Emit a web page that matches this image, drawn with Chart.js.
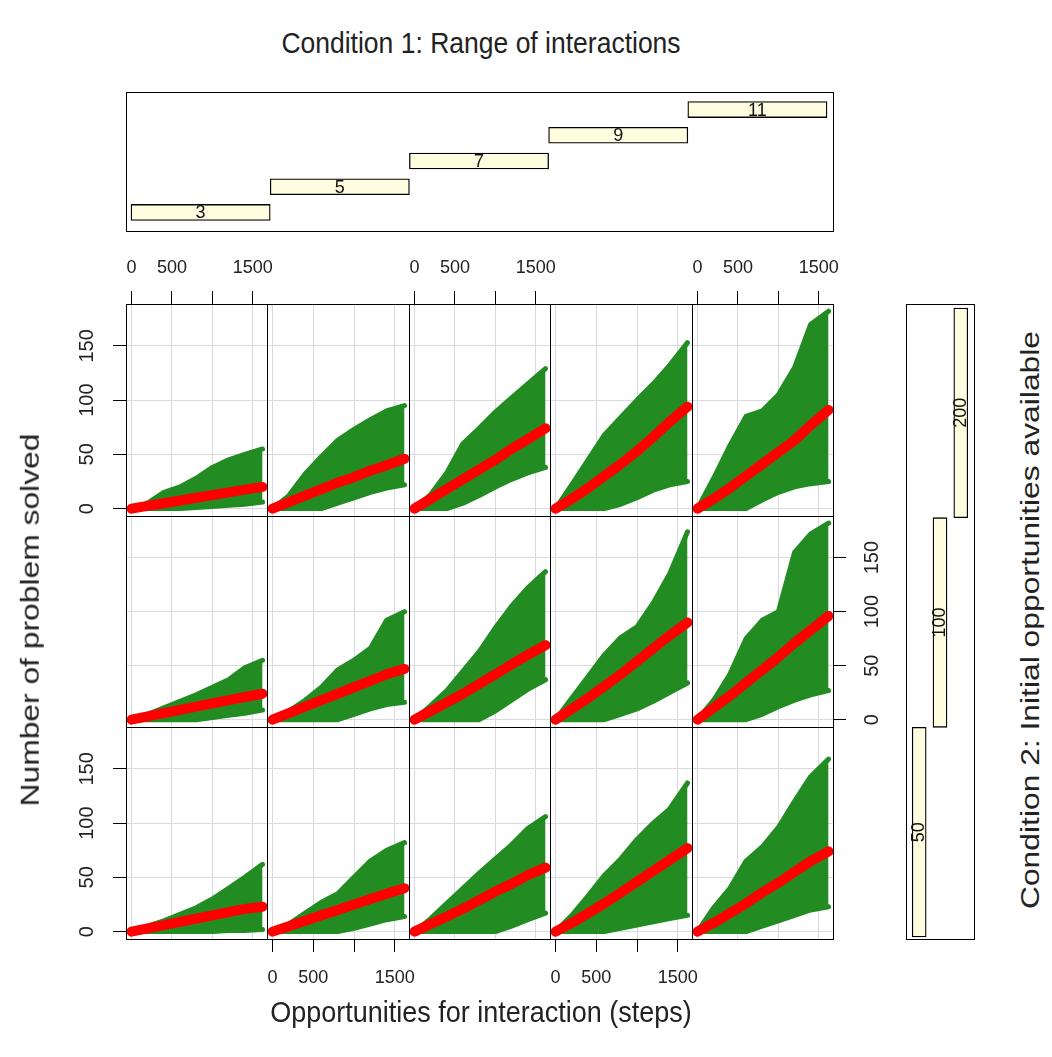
<!DOCTYPE html>
<html>
<head>
<meta charset="utf-8">
<script src="https://cdn.jsdelivr.net/npm/chart.js@4.4.1/dist/chart.umd.min.js"></script>
<style>
body{margin:0;background:#fff;width:1052px;height:1057px;position:relative;overflow:hidden;font-family:"Liberation Sans",Arial,sans-serif;color:#222}
canvas{position:absolute}
.frame{position:absolute;border:1px solid #000;box-sizing:border-box;pointer-events:none}
.lbl{position:absolute;white-space:nowrap;line-height:1}
</style>
</head>
<body>
<script>
// shingle levels
const rangeLevels = ["3", "5", "7", "9", "11"];
const rangeLow = [2, 4, 6, 8, 10];
const rangeHigh = [4, 6, 8, 10, 12];
const oppLevels = ["50", "100", "200"];
const oppLow = [0, 1, 2];
const oppHigh = [1, 2, 3];

const xTicks = [0, 500, 1000, 1500];
const yTicks = [0, 50, 100, 150];

// steps where the envelopes were read
const steps = [0, 200, 400, 600, 800, 1000, 1200, 1400, 1620];

// one list per range of interactions (3,5,7,9,11)
const upper200 = [
  [0, 5, 15, 20, 28, 38, 45, 50, 55],
  [0, 12, 32, 48, 63, 73, 82, 90, 95],
  [0, 13, 33, 60, 74, 89, 102, 115, 129],
  [0, 22, 45, 68, 84, 100, 115, 132, 153],
  [0, 28, 58, 85, 90, 105, 130, 170, 182]
];
const lower200 = [
  [0, 0, 0, 0, 1, 2, 3, 4, 6],
  [0, 0, 0, 0, 5, 10, 15, 19, 22],
  [0, 0, 0, 5, 12, 20, 27, 33, 38],
  [0, 0, 0, 0, 4, 10, 17, 22, 25],
  [0, 0, 0, 0, 8, 15, 20, 23, 25]
];
const mean200 = [
  [0, 2.5, 5, 7.5, 10, 12.5, 15, 17.5, 20],
  [0, 6, 12, 18, 24, 29, 35, 40, 46],
  [0, 9, 18, 27, 36, 45, 55, 64, 74],
  [0, 9, 19, 30, 41, 53, 66, 80, 94],
  [0, 9, 19, 30, 41, 52, 63, 77, 91]
];

const upper100 = [
  [0, 5, 11, 17, 23, 30, 37, 48, 55],
  [0, 8, 18, 30, 46, 55, 66, 92, 100],
  [0, 13, 27, 45, 63, 85, 105, 122, 137],
  [0, 20, 40, 60, 76, 86, 108, 135, 174],
  [0, 18, 42, 75, 92, 100, 155, 172, 182]
];
const lower100 = [
  [0, 0, 0, 0, 0, 2, 4, 6, 9],
  [0, 0, 0, 0, 0, 5, 10, 14, 16],
  [0, 0, 0, 0, 0, 8, 18, 28, 37],
  [0, 0, 0, 0, 5, 10, 17, 25, 34],
  [0, 0, 0, 0, 5, 12, 18, 23, 27]
];
const mean100 = [
  [0, 3, 6, 9, 12, 15, 18, 21, 24],
  [0, 6, 12, 18, 24, 30, 36, 42, 47],
  [0, 8, 16, 24, 33, 42, 51, 60, 69],
  [0, 10, 20, 31, 42, 54, 66, 78, 90],
  [0, 11, 22, 34, 46, 58, 71, 83, 96]
];

const upper50 = [
  [0, 5, 10, 16, 22, 30, 40, 50, 62],
  [0, 7, 17, 27, 35, 50, 65, 75, 82],
  [0, 12, 26, 40, 54, 67, 80, 95, 106],
  [0, 15, 33, 52, 67, 85, 100, 113, 137],
  [0, 22, 40, 65, 78, 96, 120, 143, 159]
];
const lower50 = [
  [0, 0, 0, 0, 0, 0, 1, 1, 2],
  [0, 0, 0, 0, 0, 3, 7, 11, 14],
  [0, 0, 0, 0, 0, 0, 5, 11, 17],
  [0, 0, 0, 0, 3, 6, 9, 12, 15],
  [0, 0, 0, 0, 5, 10, 15, 20, 23]
];
const mean50 = [
  [0, 3, 6, 9, 12, 15, 18, 21, 23],
  [0, 5, 10, 15, 20, 25, 30, 35, 40],
  [0, 7, 14, 21, 29, 37, 44, 52, 59],
  [0, 8, 17, 26, 36, 46, 56, 66, 77],
  [0, 8, 17, 26, 36, 45, 55, 65, 74]
];

// layout
const colL = [126, 267, 409, 550, 692, 833];
const rowT = [304, 516, 727, 939];
const AX = 60;
const PADX = 30;
const GREEN = "#228b22";
const RED = "#ff0000";
const FONT = '"Liberation Sans", Arial, sans-serif';

Chart.defaults.font.family = FONT;
Chart.defaults.animation = false;
Chart.defaults.events = [];
Chart.defaults.plugins.legend.display = false;
Chart.defaults.plugins.tooltip.enabled = false;

function addCanvas(left, top, w, h) {
  const cv = document.createElement("canvas");
  cv.width = w; cv.height = h;
  cv.style.left = left + "px"; cv.style.top = top + "px";
  cv.style.width = w + "px"; cv.style.height = h + "px";
  document.body.appendChild(cv);
  return cv;
}

function frame(left, top, w, h) {
  const d = document.createElement("div");
  d.className = "frame";
  d.style.left = left + "px"; d.style.top = top + "px";
  d.style.width = w + "px"; d.style.height = h + "px";
  document.body.appendChild(d);
}

function text(str, x, y, size, rot, stretch) {
  const d = document.createElement("div");
  d.className = "lbl";
  d.textContent = str;
  d.style.left = x + "px"; d.style.top = y + "px";
  d.style.fontSize = size + "px";
  const s = rot ? "scaleX(" + stretch + ")" : "scaleY(" + stretch + ")";
  d.style.transform = "translate(-50%,-50%) rotate(" + (rot || 0) + "deg) " + s;
  document.body.appendChild(d);
}

function pts(ys) {
  return steps.map((x, i) => ({ x: x, y: ys[i] }));
}

function panel(r, c, up, lo, mn) {
  const xTop = r === 0 && c % 2 === 0;
  const xBot = r === 2 && c % 2 === 1;
  const yLeft = c === 0 && r !== 1;
  const yRight = c === 4 && r === 1;
  const padX = (xTop || xBot) ? PADX : 0;
  const w = colL[c + 1] - colL[c];
  const h = rowT[r + 1] - rowT[r];
  const cv = addCanvas(colL[c] - (yLeft ? AX : 0) - padX, rowT[r] - (xTop ? AX : 0),
    w + (yLeft || yRight ? AX : 0) + 2 * padX, h + (xTop || xBot ? AX : 0));

  new Chart(cv, {
    type: "line",
    data: {
      datasets: [
        { data: pts(mn), borderColor: RED, borderWidth: 10, pointRadius: 0,
          borderCapStyle: "round", borderJoinStyle: "round", fill: false, order: 0 },
        { data: pts(lo), borderColor: GREEN, borderWidth: 5, pointRadius: 0,
          borderCapStyle: "round", borderJoinStyle: "round", fill: false, order: 2 },
        { data: pts(up), borderColor: GREEN, backgroundColor: GREEN, borderWidth: 5,
          pointRadius: 0, borderCapStyle: "round", borderJoinStyle: "round", fill: 1, order: 1 }
      ]
    },
    options: {
      responsive: false,
      layout: { padding: { left: padX, right: padX, top: 0, bottom: 0 } },
      scales: {
        x: {
          type: "linear", min: -68, max: 1675,
          position: xTop ? "top" : "bottom",
          afterBuildTicks: s => { s.ticks = xTicks.map(v => ({ value: v })); },
          afterFit: s => { s.height = (xTop || xBot) ? AX : 0; s.paddingLeft = 0; s.paddingRight = 0; },
          border: { display: false },
          grid: { color: "#d9d9de", drawTicks: xTop || xBot, tickLength: 13, tickColor: "#000" },
          ticks: {
            display: xTop || xBot, autoSkip: false, minRotation: 0, maxRotation: 0,
            padding: xTop ? 12 : 15, color: "#222", font: { size: 18 },
            callback: v => (v === 1000 ? "" : String(v))
          }
        },
        y: {
          type: "linear", min: -6.8, max: 188.6,
          position: yRight ? "right" : "left",
          afterBuildTicks: s => { s.ticks = yTicks.map(v => ({ value: v })); },
          afterFit: s => { s.width = (yLeft || yRight) ? AX : 0; s.paddingTop = 0; s.paddingBottom = 0; },
          border: { display: false },
          grid: { color: "#d9d9de", drawTicks: yLeft || yRight, tickLength: 13, tickColor: "#000" },
          ticks: {
            display: yLeft || yRight, minRotation: 90, maxRotation: 90, crossAlign: "center",
            padding: yLeft ? 9 : 10, color: "#222", font: { size: 20 }
          }
        }
      }
    }
  });
  frame(colL[c], rowT[r], w + 1, h + 1);
}

const rows = [
  [upper200, lower200, mean200],
  [upper100, lower100, mean100],
  [upper50, lower50, mean50]
];
rows.forEach((set, r) => {
  for (let c = 0; c < 5; c++) panel(r, c, set[0][c], set[1][c], set[2][c]);
});

// labels inside shingle bars
const barText = {
  id: "barText",
  afterDatasetsDraw(chart, args, opts) {
    const ctx = chart.ctx;
    const els = chart.getDatasetMeta(0).data;
    const horiz = chart.options.indexAxis === "y";
    ctx.save();
    ctx.fillStyle = "#111";
    ctx.font = opts.size + "px " + FONT;
    ctx.textAlign = "center";
    ctx.textBaseline = "middle";
    els.forEach((el, i) => {
      const cx = horiz ? (el.x + el.base) / 2 : el.x;
      const cy = horiz ? el.y : (el.y + el.base) / 2;
      ctx.save();
      ctx.translate(cx, cy + (horiz ? 1 : 0));
      if (!horiz) ctx.rotate(-Math.PI / 2);
      ctx.fillText(opts.labels[i], 0, 0);
      ctx.restore();
    });
    ctx.restore();
  }
};

// top strip: range of interactions
new Chart(addCanvas(126, 92, 707, 140), {
  type: "bar",
  data: {
    datasets: [{
      data: rangeLevels.map((l, i) => ({ y: i + 1, x: [rangeLow[i], rangeHigh[i]] })),
      backgroundColor: "#fffde0", borderColor: "#000", borderWidth: 1.3,
      borderSkipped: false, barThickness: 16
    }]
  },
  options: {
    responsive: false, indexAxis: "y",
    scales: {
      x: { type: "linear", min: 1.928, max: 12.086, display: false },
      y: { type: "linear", min: 0.239, max: 5.683, offset: false, display: false }
    },
    plugins: { barText: { labels: rangeLevels, size: 18 } }
  },
  plugins: [barText]
});
frame(126, 92, 708, 140);

// right strip: initial opportunities
new Chart(addCanvas(906, 304, 69, 636), {
  type: "bar",
  data: {
    datasets: [{
      data: oppLevels.map((l, i) => ({ x: i + 1, y: [oppLow[i], oppHigh[i]] })),
      backgroundColor: "#fffde0", borderColor: "#000", borderWidth: 1.3,
      borderSkipped: false, barThickness: 14
    }]
  },
  options: {
    responsive: false,
    scales: {
      x: { type: "linear", min: 0.366, max: 3.683, offset: false, display: false },
      y: { type: "linear", min: -0.0143, max: 3.019, display: false }
    },
    plugins: { barText: { labels: oppLevels, size: 18 } }
  },
  plugins: [barText]
});
frame(906, 304, 69, 636);

text("Condition 1: Range of interactions", 481, 43, 26.5, 0, 1.1);
text("Opportunities for interaction (steps)", 481, 1013, 27, 0, 1.1);
text("Number of problem solved", 30, 620, 26.5, -90, 1.2);
text("Condition 2: Initial opportunities available", 1030, 620, 26.5, -90, 1.2);
</script>
</body>
</html>
